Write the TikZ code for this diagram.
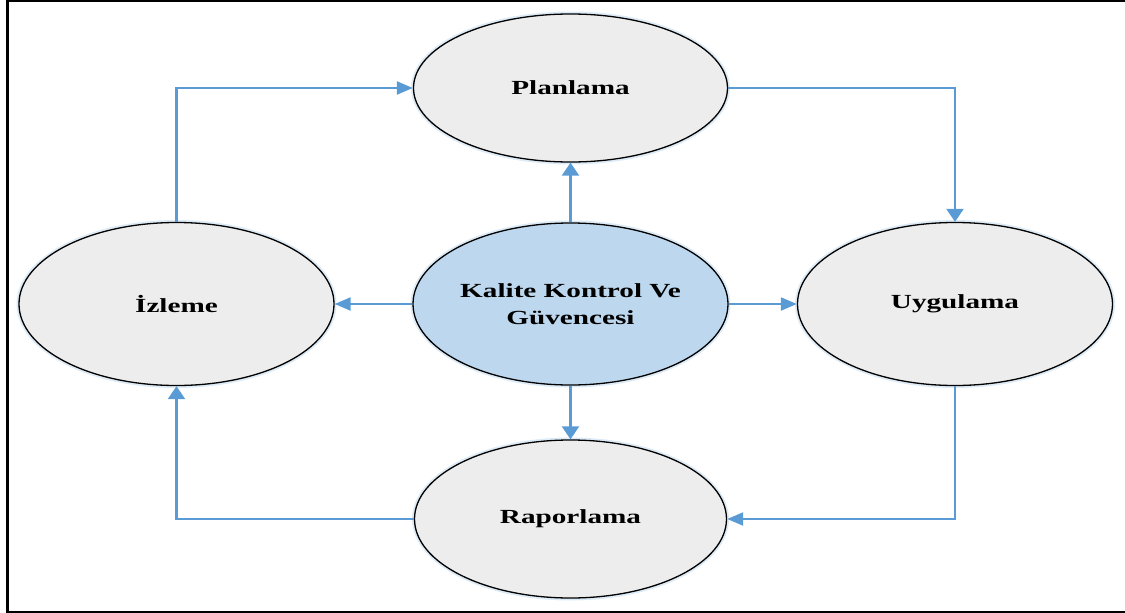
\documentclass[tikz,border=0pt]{standalone}
\usepackage{fontspec}
\setmainfont{Liberation Serif}
\newfontfamily\lblfont[FakeStretch=1.46]{Liberation Serif}
\usetikzlibrary{shapes.geometric,arrows.meta}
\definecolor{flowblue}{HTML}{5B9BD5}
\definecolor{bubblegrey}{HTML}{EDEDED}
\definecolor{corefill}{HTML}{BDD7EE}
\definecolor{glow}{HTML}{DDEBF7}
\tikzset{
  bubble/.style={ellipse, draw=black, line width=1.3pt, fill=bubblegrey,
    inner sep=0pt, align=center,
    font=\lblfont\bfseries\fontsize{20}{27}\selectfont,
    preaction={draw=glow, line width=5pt}},
  flow/.style={draw=flowblue, line width=2.2pt},
  harr/.style={flow, -{Triangle[length=16pt,width=13pt]}},
  varr/.style={flow, -{Triangle[length=13pt,width=17pt]}},
  frame/.style={draw=black}
}
\begin{document}
\begin{tikzpicture}[x=1pt,y=1pt]
\useasboundingbox (0,0) rectangle (1125,-613);
% outer frame (open on the right)
\draw[frame, line width=2.3pt] (6,-1.1) -- (1125,-1.1);
\draw[frame, line width=3pt] (7.5,0) -- (7.5,-613);
\draw[frame, line width=2pt] (6,-611.8) -- (1125,-611.8);

% cycle stages
\node[bubble, minimum width=314pt, minimum height=148pt] (plan) at (570.5,-88) {Planlama};
\node[bubble, minimum width=315pt, minimum height=163pt] (izl) at (176.5,-304) {İzleme};
\node[bubble, minimum width=315pt, minimum height=163pt] (uyg) at (955,-304) {Uygulama};
\node[bubble, minimum width=312pt, minimum height=158pt] (rap) at (570.5,-519) {Raporlama};
\node[bubble, fill=corefill, minimum width=315pt, minimum height=162pt] (kal) at (570.5,-304) {Kalite Kontrol Ve\\Güvencesi};

% cycle connectors
\draw[varr] (plan.east) -| (uyg.north);
\draw[harr] (uyg.south) |- (rap.east);
\draw[varr] (rap.west) -| (izl.south);
\draw[harr] (izl.north) |- (plan.west);

% from the core to each stage
\draw[varr] (kal.north) -- (plan.south);
\draw[varr] (kal.south) -- (rap.north);
\draw[harr] (kal.west) -- (izl.east);
\draw[harr] (kal.east) -- (uyg.west);
\end{tikzpicture}
\end{document}
